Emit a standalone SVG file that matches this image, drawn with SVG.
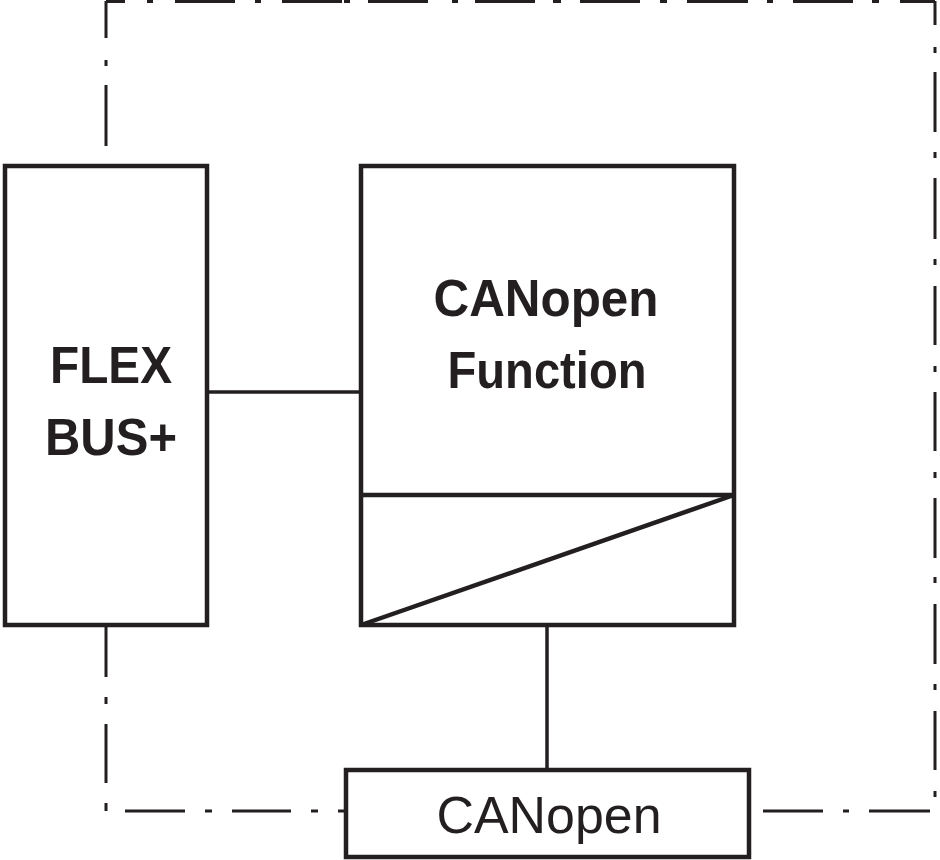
<svg xmlns="http://www.w3.org/2000/svg" width="940" height="860" viewBox="0 0 940 860">
<style>
.bd{stroke:#231f20;stroke-width:3;fill:none;stroke-linecap:butt}
.box{fill:#fff;stroke:#231f20;stroke-width:4.5}
.ln{stroke:#231f20;stroke-width:3.5;fill:none}
.t{font-family:"Liberation Sans",Arial,sans-serif;fill:#231f20;text-anchor:middle}
.b{font-weight:bold;font-size:52px}
.r{font-size:52px}
</style>
<rect width="940" height="860" fill="#fff"/>
<g id="boundary">
<path class="bd" d="M106,1.5H125M147,1.5H153M175,1.5H235M255,1.5H261M282,1.5H342M344,1.5H350M368,1.5H428M452,1.5H458M475,1.5H535M553,1.5H561M580,1.5H640M660,1.5H667M687,1.5H748M767,1.5H773M793,1.5H853M872,1.5H879M900,1.5H935"/>
<path class="bd" d="M935,1V25M935,47V53M935,72V132M935,152V158M935,178V239M935,259V265M935,286V345M935,366V372M935,392V451M935,472V478M935,498V558M935,577V583M935,604V664M935,684V690M935,711V770M935,791V797"/>
<path class="bd" d="M930,811H869M849,811H843M823,811H763M346,811H338M318,811H311M291,811H232M212,811H205M185,811H125"/>
<path class="bd" d="M106,811V803M106,783V724M106,704V697M106,677V600M106,146V85M106,66V60M106,38V1"/>
</g>
<g id="connectors">
<line class="ln" x1="207" y1="392" x2="361" y2="392"/>
<line class="ln" x1="547" y1="625" x2="547" y2="770"/>
</g>
<g id="flexbus">
<rect class="box" x="5" y="166" width="202" height="459"/>
<text class="t b" x="111" y="383" textLength="122" lengthAdjust="spacingAndGlyphs">FLEX</text>
<text class="t b" x="111" y="455" textLength="132" lengthAdjust="spacingAndGlyphs">BUS+</text>
</g>
<g id="canopen-function">
<rect class="box" x="361" y="166" width="373" height="459"/>
<line class="box" x1="361" y1="495" x2="734" y2="495"/>
<line class="box" x1="361" y1="625" x2="734" y2="495"/>
<text class="t b" x="546" y="316" textLength="225" lengthAdjust="spacingAndGlyphs">CANopen</text>
<text class="t b" x="547" y="388" textLength="199" lengthAdjust="spacingAndGlyphs">Function</text>
</g>
<g id="canopen">
<rect class="box" x="346" y="770" width="403" height="87"/>
<text class="t r" x="549" y="833" textLength="225" lengthAdjust="spacingAndGlyphs">CANopen</text>
</g>
</svg>
